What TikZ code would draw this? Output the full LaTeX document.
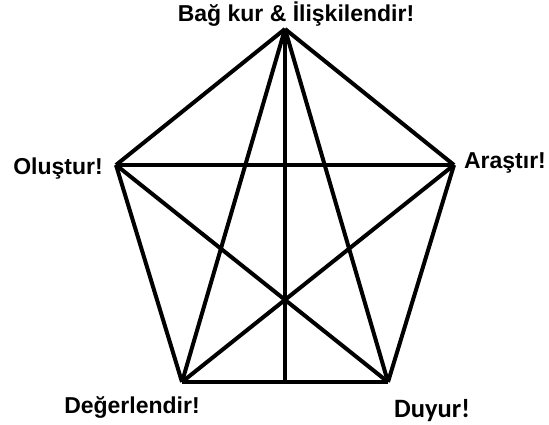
\documentclass[tikz,border=0pt]{standalone}
\usepackage{fontspec}
\setmainfont{Liberation Sans}
\newfontfamily\carlitofont{Carlito}
\usetikzlibrary{positioning}
\tikzset{
  % köşeler ve çizgiler
  pe/.style={draw=black,line width=4pt},
  lbl/.style={font=\bfseries\fontsize{23}{27}\selectfont,inner sep=0pt,anchor=base},
  lblc/.style={font=\carlitofont\bfseries\fontsize{26.5}{30}\selectfont,inner sep=0pt,anchor=base},
}
\begin{document}
\begin{tikzpicture}[x=1pt,y=-1pt]
  \useasboundingbox (0,0) rectangle (549,425);
  \coordinate (kur) at (285,29);
  \coordinate (ara) at (454,165);
  \coordinate (duy) at (388,382);
  \coordinate (deg) at (182,382);
  \coordinate (olu) at (116,165);
  \coordinate (alt) at (285,382);
  % kenarlar
  \draw[pe] (kur) -- (ara);
  \draw[pe] (ara) -- (duy);
  \draw[pe] (duy) -- (deg);
  \draw[pe] (deg) -- (olu);
  \draw[pe] (olu) -- (kur);
  % köşegenler
  \draw[pe] (kur) -- (duy);
  \draw[pe] (kur) -- (deg);
  \draw[pe] (olu) -- (ara);
  \draw[pe] (olu) -- (duy);
  \draw[pe] (ara) -- (deg);
  \draw[pe] (kur) -- (alt);
  % etiketler
  \node[lbl] (kurl) at (296,21.5) {Bağ kur \& İlişkilendir!};
  \node[lbl] (aral) at (505,168) {Araştır!};
  \node[lblc] (duyl) at (432,417) {Duyur!};
  \node[lbl] (degl) at (132,413) {Değerlendir!};
  \node[lbl] (olul) at (58,175) {Oluştur!};
\end{tikzpicture}
\end{document}
